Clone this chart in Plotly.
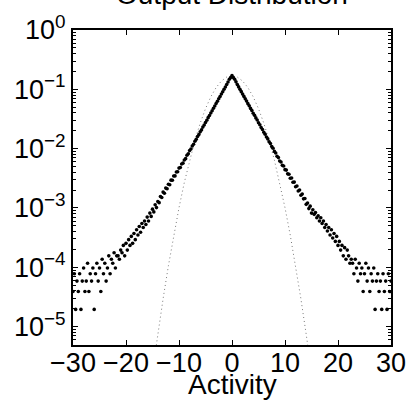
import numpy as np
import plotly.graph_objects as go

# Histogram bin centres (Activity) and counts
bin_start, bin_stop, bin_step = -30.0, 30.0, 0.25
counts = [
    # -30 .. -20
    2, 4, 1, 3, 2, 4, 1, 3, 5, 2, 3, 6, 2, 4, 3, 5, 1, 4, 6, 3, 5, 2, 7, 4, 6,
    3, 5, 8, 4, 7, 6, 9, 5, 8, 8, 7, 10, 9, 12, 8, 13,
    # -19.75 .. -0.25
    10, 15, 12, 17, 13, 19, 15, 22, 18, 25,
    20, 28, 24, 31, 27, 36, 31, 42, 37, 49,
    44, 58, 52, 66, 63, 80, 77, 95, 91, 111,
    108, 129, 126, 151, 150, 177, 178, 207, 209, 241,
    247, 282, 292, 331, 348, 396, 420, 475, 506, 569,
    610, 684, 735, 820, 884, 985, 1062, 1183, 1281, 1418,
    1541, 1708, 1852, 2049, 2231, 2463, 2681, 2958, 3232, 3559,
    3881, 4278, 4671, 5138, 5611, 6177, 6832, 7597, 8122,
    # 0
    8715,
    # 0.25 .. 20
    8127, 7581, 6849, 6162, 5629, 5122, 4689, 4262, 3898, 3541,
    3249, 2941, 2698, 2447, 2249, 2032, 1868, 1692, 1559, 1402,
    1298, 1167, 1078, 969, 898, 806, 748, 669, 624, 555,
    520, 461, 434, 382, 362, 317, 306, 268, 261, 227,
    223, 193, 190, 163, 164, 139, 140, 117, 120, 99,
    103, 84, 88, 73, 74, 59, 62, 50, 55, 42,
    48, 40, 43, 35, 38, 31, 35, 28, 31, 24,
    27, 21, 24, 18, 22, 16, 19, 14, 17, 12,
    # 20.25 .. 30
    14, 10, 12, 8, 11, 7, 10, 8, 6, 7,
    6, 4, 7, 5, 3, 6, 4, 5, 2, 4,
    6, 3, 5, 2, 4, 3, 5, 1, 3, 4,
    2, 3, 1, 4, 2, 3, 1, 4, 2, 3,
]
density_per_count = 1.95e-5

# Gaussian reference curve (dotted)
gauss_x = [-14.5, -14, -13, -12, -11, -10, -9, -8, -7, -6, -5, -4, -3, -2, -1, 0,
           1, 2, 3, 4, 5, 6, 7, 8, 9, 10, 11, 12, 13, 14, 14.5]
gauss_y = [3.56e-6, 7.40e-6, 2.95e-5, 1.06e-4, 3.45e-4, 1.01e-3, 2.68e-3, 6.40e-3,
           1.38e-2, 2.69e-2, 4.72e-2, 7.48e-2, 1.07e-1, 1.38e-1, 1.61e-1, 1.70e-1,
           1.61e-1, 1.38e-1, 1.07e-1, 7.48e-2, 4.72e-2, 2.69e-2, 1.38e-2, 6.40e-3,
           2.68e-3, 1.01e-3, 3.45e-4, 1.06e-4, 2.95e-5, 7.40e-6, 3.56e-6]

x_ticks = [-30, -20, -10, 0, 10, 20, 30]
y_tick_exps = [-5, -4, -3, -2, -1, 0]

x_bins = np.arange(bin_start, bin_stop + bin_step / 2, bin_step)
dens = [c * density_per_count if c > 0 else None for c in counts]

FONT = "Liberation Sans, Arial, Helvetica, sans-serif"
TICK_SIZE = 27
fig = go.Figure()
fig.add_trace(go.Scatter(x=gauss_x, y=gauss_y, mode="lines",
                         line=dict(color="#7a7a7a", width=1, dash="1px,3px"),
                         hoverinfo="skip", showlegend=False))
fig.add_trace(go.Scatter(x=x_bins, y=dens, mode="markers",
                         marker=dict(color="black", size=3.6, line=dict(width=0)),
                         showlegend=False))

yticks = [10.0 ** e for e in y_tick_exps]
ytext = ["10<sup>" + str(e).replace("-", "\u2212") + "</sup>" for e in y_tick_exps]
minor_vals = [m * 10.0 ** e for e in range(-6, 0) for m in range(2, 10)]

fig.update_layout(
    width=409, height=403,
    margin=dict(l=73, r=18, t=30, b=58),
    paper_bgcolor="white", plot_bgcolor="white",
    font=dict(family=FONT, size=TICK_SIZE, color="black"),
    xaxis=dict(range=[-30, 30], tickmode="array", tickvals=x_ticks,
               ticks="inside", ticklen=5, tickwidth=1, tickcolor="black",
               showline=True, linecolor="black", linewidth=2, mirror="allticks",
               showgrid=False, zeroline=False, tickfont=dict(size=TICK_SIZE),
               automargin=False, ticklabelstandoff=-7),
    yaxis=dict(type="log", range=[np.log10(4.9e-6), 0], tickmode="array",
               tickvals=yticks, ticktext=ytext,
               ticks="inside", ticklen=5, tickwidth=1, tickcolor="black",
               showline=True, linecolor="black", linewidth=2, mirror="allticks",
               showgrid=False, zeroline=False, tickfont=dict(size=TICK_SIZE),
               automargin=False,
               minor=dict(tickmode="array", tickvals=minor_vals, ticks="inside",
                          ticklen=3, tickcolor="black", showgrid=False)),
    annotations=[
        dict(text="Output Distribution", xref="paper", yref="paper", x=0.5, y=1.058,
             xanchor="center", yanchor="bottom", showarrow=False,
             font=dict(size=28, family=FONT)),
        dict(text="Activity", xref="paper", yref="paper", x=0.5, y=-0.070,
             xanchor="center", yanchor="top", showarrow=False,
             font=dict(size=28, family=FONT)),
    ],
)
fig.write_html("out.html", config={"displayModeBar": False},
               post_script="document.body.style.margin='0';")
